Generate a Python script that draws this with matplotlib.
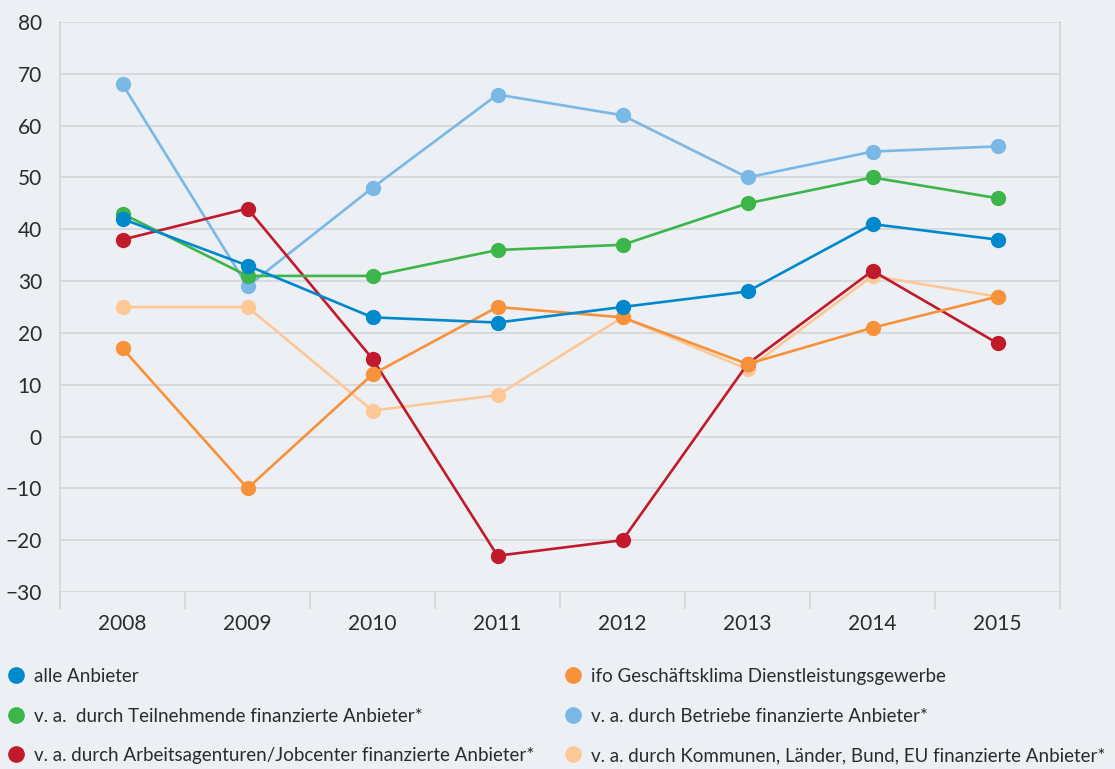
import matplotlib
matplotlib.use("Agg")
import matplotlib.pyplot as plt
from matplotlib.lines import Line2D

plt.rcParams["font.family"] = ["Lato", "DejaVu Sans"]

jahre = ["2008", "2009", "2010", "2011", "2012", "2013", "2014", "2015"]

alle = [42, 33, 23, 22, 25, 28, 41, 38]
ifo = [17, -10, 12, 25, 23, 14, 21, 27]
teilnehmende = [43, 31, 31, 36, 37, 45, 50, 46]
betriebe = [68, 29, 48, 66, 62, 50, 55, 56]
arbeitsagenturen = [38, 44, 15, -23, -20, 14, 32, 18]
kommunen = [25, 25, 5, 8, 23, 13, 31, 27]

serien = [
    ("v. a. durch Betriebe finanzierte Anbieter*", betriebe, "#7ab8e6"),
    ("v. a. durch Kommunen, Länder, Bund, EU finanzierte Anbieter*", kommunen, "#fdc896"),
    ("v. a. durch Arbeitsagenturen/Jobcenter finanzierte Anbieter*", arbeitsagenturen, "#c01a2c"),
    ("v. a.  durch Teilnehmende finanzierte Anbieter*", teilnehmende, "#3cb54a"),
    ("ifo Geschäftsklima Dienstleistungsgewerbe", ifo, "#f7923a"),
    ("alle Anbieter", alle, "#0088cc"),
]

bg = "#eceff3"
grid = "#d3d5d9"
text = "#2b2b2b"

fig = plt.figure(figsize=(11.15, 7.69), dpi=100, facecolor=bg)
ax = fig.add_axes([60 / 1115, 1 - 592 / 769, 1000 / 1115, 570 / 769])
ax.set_facecolor(bg)

x = list(range(len(jahre)))
farben = {}
for name, werte, farbe in serien:
    ax.plot(x, werte, color=farbe, lw=1.9, marker="o", markersize=10, zorder=3)
    farben[name] = farbe

ax.set_xlim(-0.5, len(jahre) - 0.5)
ax.set_ylim(-30, 80)
ax.set_yticks(range(-30, 81, 10))
ax.grid(axis="y", color=grid, lw=1.2)
ax.set_axisbelow(True)

ax.set_xticks([i - 0.5 for i in range(len(jahre) + 1)])
ax.set_xticklabels([])
ax.set_xticks(x, minor=True)
ax.set_xticklabels(jahre, minor=True)
ax.tick_params(axis="x", which="major", length=12, color=grid, width=1.2)
ax.tick_params(axis="x", which="minor", length=0, pad=16, labelsize=15, labelcolor=text)
ax.tick_params(axis="y", length=0, pad=13, labelsize=15, labelcolor=text)

for s in ["top", "bottom"]:
    ax.spines[s].set_visible(False)
for s in ["left", "right"]:
    ax.spines[s].set_color(grid)
    ax.spines[s].set_linewidth(1.2)
ax.spines["left"].set_bounds(-32.5, 80)

def legende(namen, xpos):
    handles = [Line2D([], [], ls="none", marker="o", markersize=11,
                      color=farben[n]) for n in namen]
    lg = fig.legend(handles, namen, loc="upper left",
                    bbox_to_anchor=(xpos, 1 - 668 / 769), frameon=False,
                    fontsize=13.5, labelspacing=1.2, handletextpad=0.45,
                    handlelength=1.0, borderaxespad=0, borderpad=0)
    for t in lg.get_texts():
        t.set_color(text)

legende(["alle Anbieter",
         "v. a.  durch Teilnehmende finanzierte Anbieter*",
         "v. a. durch Arbeitsagenturen/Jobcenter finanzierte Anbieter*"], 7 / 1115)
legende(["ifo Geschäftsklima Dienstleistungsgewerbe",
         "v. a. durch Betriebe finanzierte Anbieter*",
         "v. a. durch Kommunen, Länder, Bund, EU finanzierte Anbieter*"], 564 / 1115)

fig.savefig("out.png", dpi=100, facecolor=bg)
